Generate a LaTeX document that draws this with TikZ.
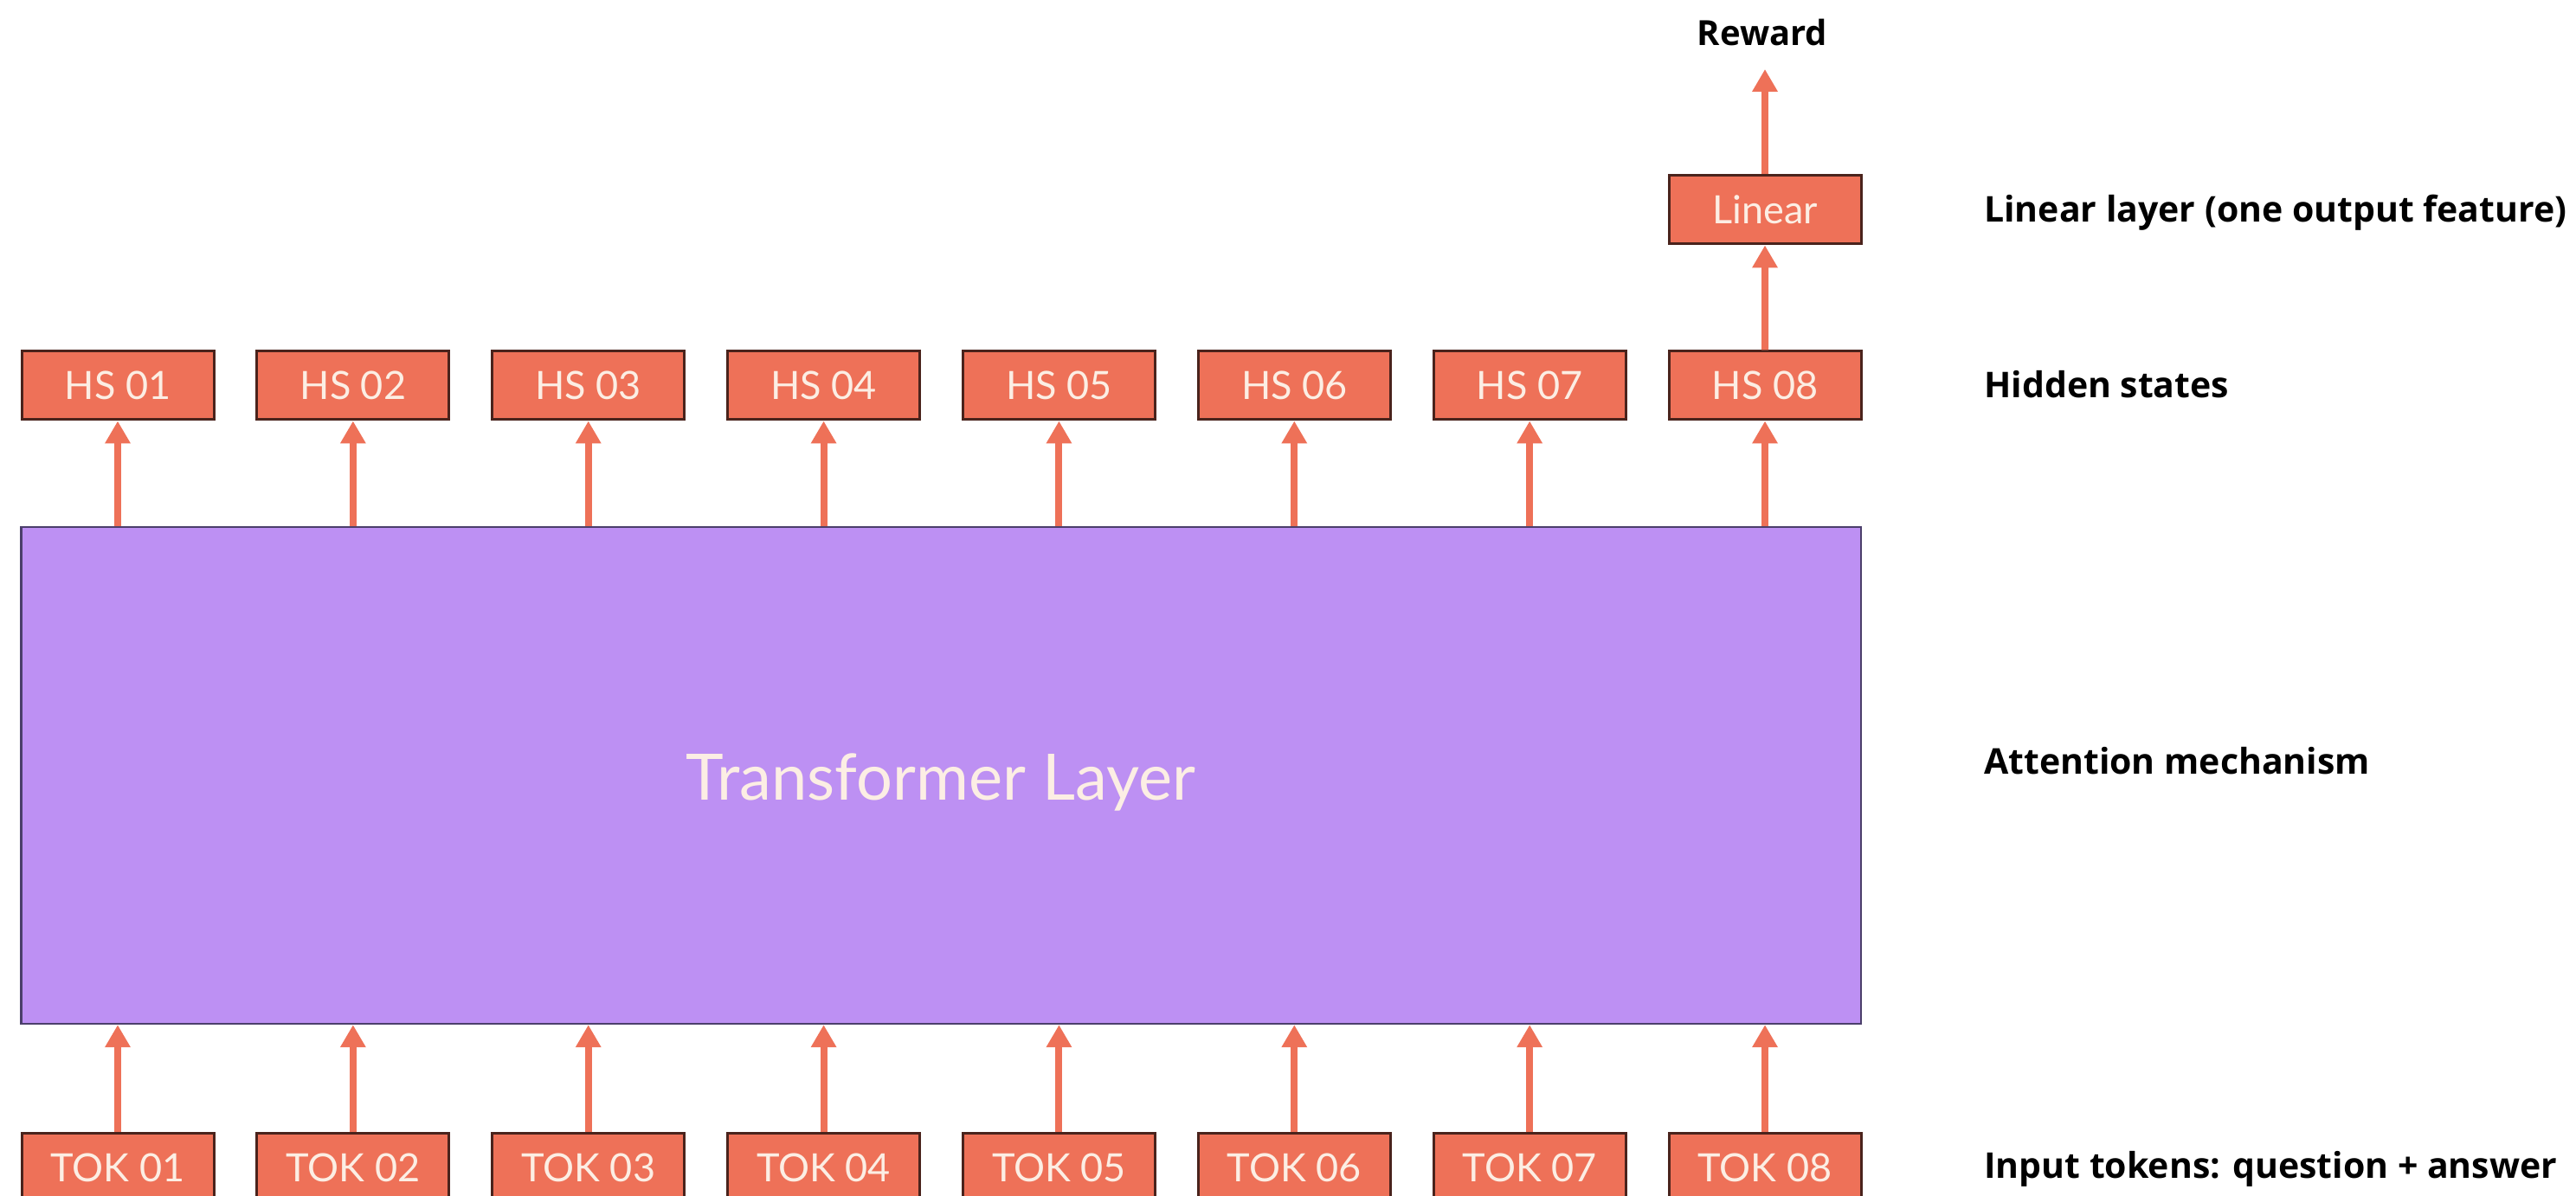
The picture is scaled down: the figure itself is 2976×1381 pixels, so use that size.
\documentclass[tikz,border=0pt]{standalone}
\usepackage{fontspec}
\setmainfont{Lato}
\newfontfamily\lblfont{Open Sans}
\usetikzlibrary{arrows.meta}
\definecolor{coral}{HTML}{EE7158}
\definecolor{coraledge}{HTML}{4A231C}
\definecolor{boxtext}{HTML}{FCEEE4}
\definecolor{purplefill}{HTML}{BD90F3}
\definecolor{purpleedge}{HTML}{4B3F6B}
\tikzset{
  x=1pt, y=1pt,
  tokbox/.style={draw=coraledge, line width=3pt, fill=coral, minimum width=222pt, minimum height=79pt,
    inner sep=0pt, text=boxtext, font=\fontsize{45}{50}\selectfont},
  translayer/.style={draw=purpleedge, line width=2.5pt, fill=purplefill, inner sep=0pt},
  sidelabel/.style={anchor=base west, inner sep=0pt, font=\lblfont\bfseries\fontsize{41}{46}\selectfont},
  arr/.style={draw=coral, line width=8pt, -{Triangle[width=28pt,length=26pt]}},
}
\begin{document}
\begin{tikzpicture}
\clip (0,0) rectangle (2976,1381);
\fill[white] (0,0) rectangle (2976,1381);
% transformer
\node[translayer, minimum width=2125.5pt, minimum height=574pt] (trans) at (1087.25,485) {};
\node[anchor=base, inner sep=0pt, text=boxtext, font=\fontsize{74}{80}\selectfont] (translabel) at (1087,456) {Transformer Layer};
% token and hidden-state rows
\foreach \i in {1,...,8}{
  \pgfmathsetmacro{\xc}{136+271.86*(\i-1)}
  \node[tokbox] (tok\i) at (\xc,31.5) {TOK 0\i};
  \node[tokbox] (hs\i) at (\xc,935.5) {HS 0\i};
  \draw[arr] (tok\i.north) -- (tok\i.north |- trans.south);
  \draw[arr] (hs\i.south |- trans.north) -- (hs\i.south);
}
\node[tokbox] (lin) at (2039,1138.5) {Linear};
\draw[arr] (hs8.north) -- (lin.south);
\coordinate (rtip) at (2039,1301);
\draw[arr] (lin.north) -- (rtip);
\node[anchor=base, inner sep=0pt, font=\lblfont\bfseries\fontsize{40}{46}\selectfont] (reward) at (2036,1328) {Reward};
% side labels
\node[sidelabel] (l1) at (2292,1124) {Linear layer (one output feature)};
\node[sidelabel] (l2) at (2292,921) {Hidden states};
\node[sidelabel] (l3) at (2292,486.5) {Attention mechanism};
\node[sidelabel] (l4) at (2292,19.5) {Input tokens: question + answer};
\end{tikzpicture}
\end{document}
